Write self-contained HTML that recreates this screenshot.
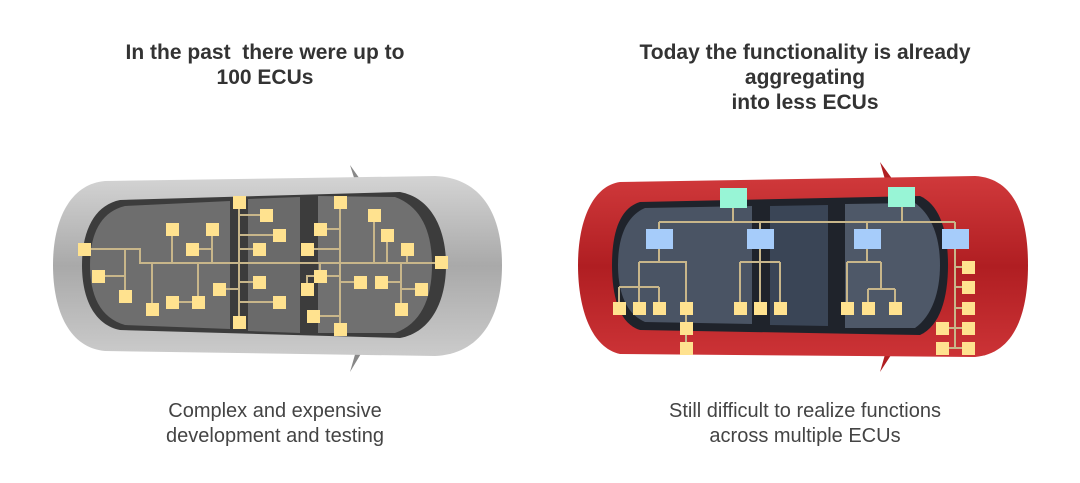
<!DOCTYPE html>
<html><head><style>
html,body{margin:0;padding:0;background:#fff;}
body{width:1080px;height:483px;overflow:hidden;position:relative;font-family:"Liberation Sans","DejaVu Sans",sans-serif;color:#333;}
.t{position:absolute;text-align:center;font-weight:bold;font-size:21px;line-height:25px;}
.b{position:absolute;text-align:center;font-size:20px;line-height:25px;color:#444;}
svg{position:absolute;left:0;top:0;}
</style></head><body>
<div class="t" style="left:45px;width:440px;top:40px;">In the past &nbsp;there were up to<br>100 ECUs</div>
<div class="t" style="left:575px;width:460px;top:40px;">Today the functionality is already<br>aggregating<br>into less ECUs</div>
<div class="b" style="left:55px;width:440px;top:399px;">Complex and expensive<br>development and testing</div>
<div class="b" style="left:580px;width:450px;top:399px;">Still difficult to realize functions<br>across multiple ECUs</div>
<svg width="1080" height="483" viewBox="0 0 1080 483">
<defs>
<linearGradient id="gb" x1="0" y1="0" x2="0" y2="1">
<stop offset="0" stop-color="#d4d4d4"/><stop offset="0.5" stop-color="#a9a9a9"/><stop offset="1" stop-color="#cbcbcb"/></linearGradient>
<linearGradient id="rb" x1="0" y1="0" x2="0" y2="1">
<stop offset="0" stop-color="#d0393b"/><stop offset="0.5" stop-color="#b01e22"/><stop offset="1" stop-color="#cc3336"/></linearGradient>
</defs>
<!-- left car -->
<path d="M350 165 L362 182 L356 184 Z M350 372 L362 352 L356 351 Z" fill="#888"/>
<path d="M105 181 C70 184 53 220 53 265 C53 312 70 348 105 351 L435 356 C480 354 502 318 502 265 C502 212 480 178 435 176 Z" fill="url(#gb)"/>
<path d="M120 200 L400 192 C432 198 446 230 446 265 C446 300 432 332 400 338 L120 330 C95 325 82 300 82 265 C82 230 95 205 120 200 Z" fill="#3c3c3c"/>
<path d="M125 206 L230 201 L230 329 L125 325 C100 318 90 295 90 265 C90 235 100 212 125 206 Z" fill="#6e6e6e"/>
<path d="M248 199 L300 197 L300 333 L248 331 Z" fill="#6a6a6a"/>
<path d="M318 196 L395 197 C420 206 432 230 432 265 C432 300 420 324 395 333 L318 333 Z" fill="#707070"/>
<g stroke="#c8b68a" stroke-width="2" fill="none">
<path d="M84 249 H140 V263 H441 M125 249 V296 M98 276 H125 M152 263 V309 M198 263 V302 H172 M172 229 V263 M212 229 V263 M192 249 H212 M239 202 V322 M239 215 H266 M239 235 H279 M239 249 H259 M219 289 H239 M239 282 H259 M239 302 H279 M340 202 V329 M320 229 H340 M307 249 H340 M374 215 V263 M387 235 V263 M407 249 V263 M320 276 V263 M307 289 V276 H340 M340 282 H360 M381 282 H401 M401 263 V309 M401 289 H421 M313 316 H340"/>
</g>
<g fill="#ffe28f">
<rect x="78" y="243" width="13" height="13"/><rect x="92" y="270" width="13" height="13"/><rect x="119" y="290" width="13" height="13"/><rect x="146" y="303" width="13" height="13"/><rect x="166" y="296" width="13" height="13"/><rect x="192" y="296" width="13" height="13"/><rect x="166" y="223" width="13" height="13"/><rect x="206" y="223" width="13" height="13"/><rect x="186" y="243" width="13" height="13"/><rect x="233" y="196" width="13" height="13"/><rect x="260" y="209" width="13" height="13"/><rect x="273" y="229" width="13" height="13"/><rect x="253" y="243" width="13" height="13"/><rect x="213" y="283" width="13" height="13"/><rect x="253" y="276" width="13" height="13"/><rect x="273" y="296" width="13" height="13"/><rect x="233" y="316" width="13" height="13"/><rect x="334" y="196" width="13" height="13"/><rect x="314" y="223" width="13" height="13"/><rect x="301" y="243" width="13" height="13"/><rect x="435" y="256" width="13" height="13"/><rect x="368" y="209" width="13" height="13"/><rect x="381" y="229" width="13" height="13"/><rect x="401" y="243" width="13" height="13"/><rect x="314" y="270" width="13" height="13"/><rect x="301" y="283" width="13" height="13"/><rect x="354" y="276" width="13" height="13"/><rect x="375" y="276" width="13" height="13"/><rect x="415" y="283" width="13" height="13"/><rect x="395" y="303" width="13" height="13"/><rect x="307" y="310" width="13" height="13"/><rect x="334" y="323" width="13" height="13"/>
</g>
<!-- right car -->
<path d="M880 162 L893 180 L886 183 Z M880 372 L893 352 L886 351 Z" fill="#b01e22"/>
<path d="M620 182 C592 186 578 222 578 265 C578 310 592 348 620 354 L975 357 C1012 354 1028 318 1028 265 C1028 212 1012 178 975 176 Z" fill="url(#rb)"/>
<path d="M640 202 L920 196 C940 205 948 232 948 265 C948 298 940 326 920 335 L640 330 C620 324 612 298 612 265 C612 232 620 208 640 202 Z" fill="#1f232b"/>
<path d="M645 208 L752 206 L752 324 L645 322 C626 314 618 292 618 265 C618 238 626 216 645 208 Z" fill="#4a5464"/>
<path d="M770 206 L828 205 L828 326 L770 325 Z" fill="#3a4556"/>
<path d="M845 204 L915 203 C932 215 940 238 940 265 C940 292 932 316 915 328 L845 328 Z" fill="#4e5868"/>
<g stroke="#c8b68a" stroke-width="2" fill="none">
<path d="M733 198 V222 M902 197 V222 M659 222 H955 M659 222 V239 M760 222 V239 M867 222 V239 M955 222 V348 M659 239 V262 M639 262 H686 V348 M639 262 V287 M619 287 H659 M619 287 V308 M639 287 V308 M659 287 V308 M760 239 V308 M740 262 H780 M740 262 V308 M780 262 V308 M867 239 V262 M847 262 H881 M847 262 V308 M881 262 V289 M868 289 H895 M868 289 V308 M895 289 V308 M955 267 H968 M955 287 H968 M955 308 H968 M942 328 H968 M942 348 H968"/>
</g>
<g fill="#98f5d6"><rect x="720" y="188" width="27" height="20"/><rect x="888" y="187" width="27" height="20"/></g>
<g fill="#a6ccfa"><rect x="646" y="229" width="27" height="20"/><rect x="747" y="229" width="27" height="20"/><rect x="854" y="229" width="27" height="20"/><rect x="942" y="229" width="27" height="20"/></g>
<g fill="#ffe28f">
<rect x="613" y="302" width="13" height="13"/><rect x="633" y="302" width="13" height="13"/><rect x="653" y="302" width="13" height="13"/><rect x="680" y="302" width="13" height="13"/><rect x="680" y="322" width="13" height="13"/><rect x="680" y="342" width="13" height="13"/><rect x="734" y="302" width="13" height="13"/><rect x="754" y="302" width="13" height="13"/><rect x="774" y="302" width="13" height="13"/><rect x="841" y="302" width="13" height="13"/><rect x="862" y="302" width="13" height="13"/><rect x="889" y="302" width="13" height="13"/><rect x="962" y="261" width="13" height="13"/><rect x="962" y="281" width="13" height="13"/><rect x="962" y="302" width="13" height="13"/><rect x="962" y="322" width="13" height="13"/><rect x="962" y="342" width="13" height="13"/><rect x="936" y="322" width="13" height="13"/><rect x="936" y="342" width="13" height="13"/>
</g>
</svg>
</body></html>
